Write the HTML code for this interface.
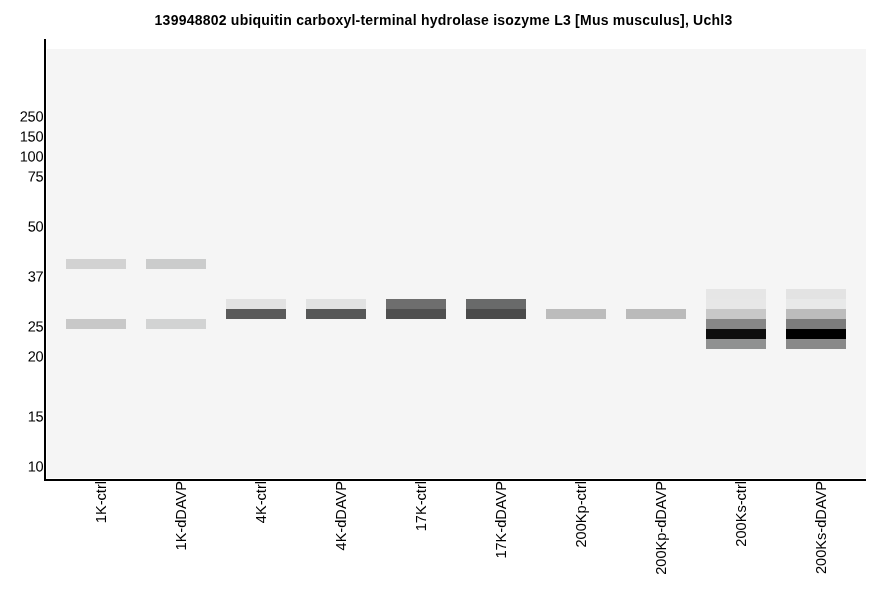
<!DOCTYPE html>
<html><head><meta charset="utf-8"><title>blot</title>
<style>
html,body{margin:0;padding:0;background:#fff;}
body{width:886px;height:595px;position:relative;overflow:hidden;font-family:"Liberation Sans",sans-serif;color:#000;}
.abs{position:absolute;}
#title{left:0.5px;width:886px;top:12px;text-align:center;font-weight:bold;font-size:14px;letter-spacing:0.23px;line-height:16px;white-space:nowrap;}
#plot{left:47px;top:49px;width:819px;height:429px;background:#f5f5f5;}
#yax{left:44px;top:39px;width:2px;height:442px;background:#000;}
#xax{left:44px;top:479px;width:822px;height:2px;background:#000;}
.b{position:absolute;width:60px;height:10px;}
.yl{position:absolute;right:842px;font-size:14.6px;letter-spacing:-0.2px;transform:translate(-0.3px,-0.4px) rotate(0.03deg);transform-origin:100% 13px;line-height:16px;height:16px;white-space:nowrap;text-align:right;}
.xl{position:absolute;font-size:14.6px;line-height:16px;height:16px;white-space:nowrap;transform-origin:0 0;transform:rotate(-90deg);text-align:right;}
</style></head><body>
<div id="title" class="abs">139948802 ubiquitin carboxyl-terminal hydrolase isozyme L3 [Mus musculus], Uchl3</div>
<div id="plot" class="abs"></div>
<div id="yax" class="abs"></div>
<div id="xax" class="abs"></div>

<div class="b" style="left:66px;top:259px;background:#d2d2d2"></div>
<div class="b" style="left:66px;top:319px;background:#c8c8c8"></div>
<div class="b" style="left:146px;top:259px;background:#cbcccc"></div>
<div class="b" style="left:146px;top:319px;background:#d2d3d3"></div>
<div class="b" style="left:226px;top:299px;background:#e2e2e2"></div>
<div class="b" style="left:226px;top:309px;background:#5a5a5a"></div>
<div class="b" style="left:306px;top:299px;background:#e1e2e2"></div>
<div class="b" style="left:306px;top:309px;background:#565757"></div>
<div class="b" style="left:386px;top:299px;background:#6e6e6e"></div>
<div class="b" style="left:386px;top:309px;background:#4f4f4f"></div>
<div class="b" style="left:466px;top:299px;background:#696a6a"></div>
<div class="b" style="left:466px;top:309px;background:#4a4a4a"></div>
<div class="b" style="left:546px;top:309px;background:#bcbcbc"></div>
<div class="b" style="left:626px;top:309px;background:#bababa"></div>
<div class="b" style="left:706px;top:289px;background:#e6e6e6"></div>
<div class="b" style="left:706px;top:299px;background:#e7e7e7"></div>
<div class="b" style="left:706px;top:309px;background:#c8c8c8"></div>
<div class="b" style="left:706px;top:319px;background:#878787"></div>
<div class="b" style="left:706px;top:329px;background:#0e0e0e"></div>
<div class="b" style="left:706px;top:339px;background:#909191"></div>
<div class="b" style="left:786px;top:289px;background:#e3e3e3"></div>
<div class="b" style="left:786px;top:299px;background:#e8e9e9"></div>
<div class="b" style="left:786px;top:309px;background:#bcbcbc"></div>
<div class="b" style="left:786px;top:319px;background:#7c7c7c"></div>
<div class="b" style="left:786px;top:329px;background:#000000"></div>
<div class="b" style="left:786px;top:339px;background:#898989"></div>
<div class="yl" style="top:109px">250</div>
<div class="yl" style="top:129px">150</div>
<div class="yl" style="top:149px">100</div>
<div class="yl" style="top:169px">75</div>
<div class="yl" style="top:219px">50</div>
<div class="yl" style="top:269px">37</div>
<div class="yl" style="top:319px">25</div>
<div class="yl" style="top:349px">20</div>
<div class="yl" style="top:409px">15</div>
<div class="yl" style="top:459px">10</div>
<div class="xl" style="left:92.5px;top:601px;width:120px">1K-ctrl</div>
<div class="xl" style="left:172.5px;top:601px;width:120px">1K-dDAVP</div>
<div class="xl" style="left:252.5px;top:601px;width:120px">4K-ctrl</div>
<div class="xl" style="left:332.5px;top:601px;width:120px">4K-dDAVP</div>
<div class="xl" style="left:412.5px;top:601px;width:120px">17K-ctrl</div>
<div class="xl" style="left:492.5px;top:601px;width:120px">17K-dDAVP</div>
<div class="xl" style="left:572.5px;top:601px;width:120px">200Kp-ctrl</div>
<div class="xl" style="left:652.5px;top:601px;width:120px">200Kp-dDAVP</div>
<div class="xl" style="left:732.5px;top:601px;width:120px">200Ks-ctrl</div>
<div class="xl" style="left:812.5px;top:601px;width:120px">200Ks-dDAVP</div>
</body></html>
